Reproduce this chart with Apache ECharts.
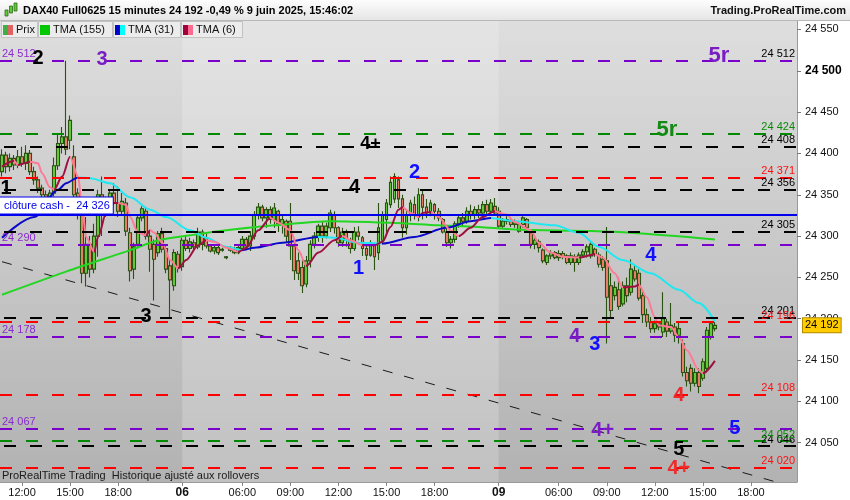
<!DOCTYPE html>
<html><head><meta charset="utf-8">
<script src="https://cdn.jsdelivr.net/npm/echarts@6/dist/echarts.min.js"></script>
<style>html,body{margin:0;padding:0;background:#fff}#c{width:850px;height:500px}</style>
</head><body><div id="c"></div>
<script>
// ---------- DATA ----------
const sessions = [
  {day:'05', start:'10:45', end:'21:45'},
  {day:'06', start:'02:15', end:'21:45'},
  {day:'09', start:'02:15', end:'20:45'}
];
const tickHours = ['06:00','09:00','12:00','15:00','18:00'];
const yTicks = [24050,24100,24150,24200,24250,24300,24350,24400,24450,24500,24550];

// [open, close, low, high]
const candles = [
[24378,24398,24372,24405],[24398,24384,24376,24402],[24384,24394,24378,24400],[24394,24386,24380,24398],[24386,24396,24382,24404],
[24396,24388,24384,24408],[24388,24400,24380,24410],[24400,24378,24374,24404],[24378,24368,24362,24384],[24368,24358,24352,24372],
[24358,24350,24345,24362],[24350,24345,24340,24355],[24345,24352,24340,24356],[24352,24385,24348,24395],[24385,24412,24380,24424],
[24412,24420,24400,24432],[24420,24405,24398,24512],[24416,24440,24405,24446],[24396,24350,24345,24410],[24352,24340,24320,24358],
[24332,24255,24243,24336],[24255,24290,24239,24323],[24290,24260,24250,24300],[24260,24300,24255,24315],[24300,24350,24275,24356],
[24350,24330,24300,24372],[24330,24340,24323,24348],[24340,24352,24334,24356],[24352,24340,24338,24364],[24340,24330,24323,24360],
[24330,24342,24326,24352],[24340,24306,24300,24346],[24304,24258,24245,24310],[24260,24287,24248,24292],[24290,24322,24285,24326],
[24322,24333,24318,24336],[24330,24300,24296,24334],[24300,24284,24257,24306],[24290,24272,24222,24296],[24280,24303,24275,24306],
[24303,24284,24280,24310],[24285,24260,24255,24290],[24264,24247,24200,24272],[24240,24280,24234,24284],[24278,24262,24256,24282],
[24263,24295,24258,24298],[24295,24285,24282,24300],[24285,24293,24280,24298],[24292,24287,24282,24296],[24287,24305,24284,24310],
[24305,24290,24283,24308],[24298,24288,24285,24304],[24288,24282,24280,24290],[24282,24286,24278,24290],[24286,24280,24277,24288],
[24283,24284,24281,24286],[24275,24274,24272,24276],[24283,24285,24281,24288],[24284,24280,24278,24287],[24280,24286,24278,24288],
[24285,24296,24282,24300],[24296,24288,24283,24299],[24288,24300,24282,24306],[24300,24326,24296,24330],[24326,24335,24320,24340],
[24335,24322,24318,24338],[24322,24332,24310,24335],[24332,24320,24315,24336],[24320,24334,24310,24340],[24330,24315,24305,24332],
[24315,24320,24303,24325],[24318,24300,24292,24320],[24318,24288,24271,24340],[24288,24258,24247,24292],[24270,24255,24247,24280],
[24262,24240,24231,24272],[24242,24270,24238,24276],[24270,24290,24262,24295],[24290,24300,24285,24305],[24300,24312,24293,24315],
[24312,24300,24292,24318],[24300,24312,24297,24316],[24310,24328,24305,24332],[24325,24310,24303,24330],[24310,24292,24287,24312],
[24292,24305,24287,24310],[24305,24295,24287,24308],[24295,24285,24279,24298],[24285,24305,24282,24311],[24305,24300,24295,24312],
[24298,24285,24276,24300],[24285,24277,24271,24292],[24277,24290,24275,24295],[24290,24275,24259,24292],[24280,24310,24271,24340],
[24295,24325,24290,24330],[24320,24340,24302,24345],[24338,24365,24334,24372],[24345,24372,24340,24376],[24368,24345,24334,24372],
[24345,24310,24298,24350],[24310,24325,24302,24332],[24325,24340,24318,24344],[24338,24325,24320,24348],[24325,24350,24318,24358],
[24350,24335,24320,24355],[24335,24328,24322,24345],[24328,24340,24324,24344],[24338,24330,24320,24340],[24330,24322,24318,24334],
[24320,24305,24303,24322],[24305,24292,24287,24312],[24292,24296,24285,24300],[24296,24315,24292,24318],[24315,24322,24310,24326],
[24322,24318,24312,24328],[24318,24330,24315,24335],[24330,24325,24320,24338],[24325,24332,24320,24336],[24332,24328,24322,24338],
[24328,24338,24325,24342],[24338,24330,24326,24344],[24330,24340,24327,24345],[24336,24328,24325,24346],[24330,24312,24310,24335],
[24312,24318,24310,24322],[24318,24320,24314,24324],[24318,24314,24311,24322],[24314,24316,24310,24320],[24306,24314,24304,24318],
[24314,24322,24310,24324],[24320,24310,24304,24322],[24304,24290,24285,24306],[24290,24295,24284,24298],[24293,24286,24280,24296],
[24283,24270,24267,24285],[24268,24276,24265,24278],[24276,24280,24272,24283],[24280,24274,24272,24282],[24274,24279,24270,24283],
[24279,24275,24272,24282],[24276,24268,24266,24278],[24268,24276,24265,24280],[24275,24268,24257,24278],[24268,24277,24265,24280],
[24277,24281,24274,24284],[24281,24287,24274,24290],[24276,24290,24273,24293],[24284,24278,24275,24286],[24277,24266,24262,24280],
[24272,24262,24258,24276],[24270,24226,24170,24311],[24240,24210,24200,24255],[24228,24238,24222,24245],[24235,24215,24211,24250],
[24218,24240,24215,24245],[24240,24228,24220,24250],[24232,24260,24228,24272],[24258,24248,24245,24265],[24255,24225,24222,24260],
[24228,24205,24195,24235],[24205,24196,24190,24212],[24196,24188,24183,24202],[24188,24194,24183,24198],[24194,24190,24186,24196],
[24184,24200,24178,24232],[24196,24185,24178,24200],[24185,24192,24182,24219],[24190,24180,24172,24195],[24180,24188,24170,24196],
[24170,24135,24130,24175],[24135,24125,24118,24142],[24140,24122,24112,24145],[24122,24135,24118,24140],[24135,24118,24110,24140],
[24128,24148,24125,24152],[24140,24186,24135,24190],[24178,24194,24175,24197],[24188,24192,24185,24196]
];

// moving averages: [bar index, value]
const tma155 = [[0,24229],[16,24257],[32,24283],[39,24295],[47,24301],[56,24307],[68,24313],[82,24318],[97,24316],[109,24313],[119,24311],[128,24308],[147,24306],[157,24304],[178,24296]];
const tma31 = [[0,24298],[8,24323],[14,24356],[16,24364],[19,24371],[22,24370],[27,24364],[32,24347],[37,24332],[41,24323],[47,24307],[51,24298],[56,24287],[60,24283],[63,24286],[70,24292],[79,24299],[83,24298],[89,24292],[95,24291],[103,24299],[111,24310],[117,24318],[122,24322],[128,24318],[138,24313],[144,24304],[149,24287],[155,24271],[162,24255],[169,24235],[174,24219],[178,24197]];
const tma6 = [[0,24384],[3,24391],[4,24386],[7,24390],[9,24388],[10,24376],[12,24359],[13,24356],[15,24372],[17,24396],[19,24372],[20,24335],[21,24299],[23,24281],[24,24299],[26,24328],[28,24340],[29,24340],[31,24338],[32,24323],[34,24304],[36,24301],[37,24307],[38,24304],[40,24292],[42,24271],[44,24261],[46,24271],[49,24289],[51,24295],[53,24293],[56,24286],[59,24281],[61,24286],[64,24307],[67,24322],[69,24316],[72,24307],[74,24283],[76,24264],[79,24280],[83,24295],[85,24300],[87,24295],[90,24289],[93,24289],[95,24293],[97,24311],[99,24332],[100,24335],[102,24328],[104,24323],[105,24328],[107,24329],[109,24323],[112,24307],[114,24300],[117,24310],[120,24323],[123,24330],[126,24326],[128,24317],[132,24307],[134,24292],[137,24280],[140,24275],[144,24274],[148,24278],[150,24274],[153,24255],[155,24238],[158,24239],[159,24241],[161,24226],[163,24202],[164,24192],[167,24190],[169,24178],[171,24162],[174,24138],[175,24134],[178,24149]];

const trendLine = [[0,24269],[198,23996]];

const blackLevels = [24408,24356,24305,24201,24046];
const redLevels = [24371,24196,24108,24020];
const greenLevels = [24424,24052];
const purpleLevels = [24512,24290,24178,24067];
const purpleRightLabelled = [24512];
const cashClose = 24326;
const lastPrice = 24192;

const wavesBlack = [[9,24515,'2'],[1,24358,'1'],[36,24203,'3'],[88,24359,'4'],[169,24042,'5']];
const wavesBlackSmall = [[92,24411,'4+']];
const wavesPurple = [[25,24514,'3'],[143,24179,'4'],[150,24065,'4+']];
const wavesPurpleBig = [[179,24518,'5r']];
const wavesBlue = [[103,24377,'2'],[89,24261,'1'],[162,24276,'4'],[148,24169,'3'],[183,24067,'5']];
const wavesGreenBig = [[166,24429,'5r']];
const wavesRed = [[169,24107,'4'],[169,24019,'4+']];

// ---------- BUILD ----------
const FONT = '"Liberation Sans", Arial, sans-serif';
function pad(n){return String(n).padStart(2,'0');}
const cats = [];
sessions.forEach(s => {
  let [h,m] = s.start.split(':').map(Number);
  const [eh,em] = s.end.split(':').map(Number);
  while (h*60+m <= eh*60+em) { cats.push(s.day+' '+pad(h)+':'+pad(m)); m += 15; if (m >= 60) { m -= 60; h++; } }
});
const dayStarts = new Set(sessions.slice(1).map(s => s.day+' '+s.start));
const showTick = (i, v) => dayStarts.has(v) || tickHours.includes(v.split(' ')[1]);
const fmt = v => { const s = String(Math.round(v)); return s.slice(0, s.length-3)+' '+s.slice(-3); };

function dirPieces(pts, upColor, downColor){
  const pieces = [];
  for (let k = 0; k < pts.length-1; k++) {
    const color = pts[k+1][1] >= pts[k][1] ? upColor : downColor;
    const last = pieces[pieces.length-1];
    if (last && last.color === color) last.lt = pts[k+1][0];
    else pieces.push({gte: pts[k][0], lt: pts[k+1][0], color: color});
  }
  pieces[0].gte = -5; pieces[pieces.length-1].lt = 205;
  return pieces;
}

const DASH = [12,14];
const HIDDEN = {color:'rgba(0,0,0,0)', width:1, type:'solid'};
const ml = [];
blackLevels.forEach(v => ml.push({yAxis:v, lineStyle:{color:'#000', type:DASH, dashOffset:22, width:2}, label:{position:'insideEndTop', formatter:fmt(v), color:'#000'}}));
redLevels.forEach(v => ml.push({yAxis:v, lineStyle:{color:'#ff0000', type:DASH, width:2}, label:{position:'insideEndTop', formatter:fmt(v), color:'#ff1010'}}));
greenLevels.forEach(v => ml.push({yAxis:v, lineStyle:{color:'#008a00', type:DASH, width:2}, label:{position:'insideEndTop', formatter:fmt(v), color:'#0a8a0a'}}));
purpleLevels.forEach(v => ml.push({yAxis:v, lineStyle:{color:'#7a00cc', type:DASH, width:2}, label:{position:'insideStartTop', formatter:fmt(v), color:'#8a2ad0'}}));
purpleRightLabelled.forEach(v => ml.push({yAxis:v, lineStyle:HIDDEN, label:{position:'insideEndTop', formatter:fmt(v), color:'#000'}}));
ml.push({yAxis:cashClose, lineStyle:{color:'#0000ee', type:'solid', width:2}, label:{position:'insideStartTop', formatter:'clôture cash -  '+fmt(cashClose), color:'#0000ee', backgroundColor:'#fff', borderColor:'#0000ee', borderWidth:1, padding:[3,3,2,4], distance:[0,1]}});
ml.push({yAxis:lastPrice, lineStyle:HIDDEN, label:{position:'end', formatter:fmt(lastPrice), color:'#000', backgroundColor:'#ffcc00', borderColor:'#b08c00', borderWidth:1, padding:[2,2,1,2], fontSize:11, distance:6}});

function waveSeries(data, color, size){
  return {type:'scatter', data:data, symbolSize:1, itemStyle:{color:'rgba(0,0,0,0)', opacity:1}, z:6, silent:true,
    label:{show:true, position:'inside', formatter:p => p.data[2], color:color, opacity:1, fontSize:size, fontWeight:'bold', fontFamily:FONT}};
}

const chart = echarts.init(document.getElementById('c'), null, {renderer:'canvas'});
const legendBoxes = [
  {x:1, w:36, text:'Prix', c:['#3cb043','#e06262']},
  {x:38, w:74, text:'TMA (155)', c:['#00c800','#00c800']},
  {x:113, w:67, text:'TMA (31)', c:['#0000c8','#00ffff']},
  {x:181, w:61, text:'TMA (6)', c:['#a0003c','#ff6a8e']}
];
const graphics = [
  {type:'rect', shape:{x:0,y:0,width:850,height:21}, style:{fill:new echarts.graphic.LinearGradient(0,0,0,1,[{offset:0,color:'#fdfdfd'},{offset:1,color:'#e4e4e4'}])}, z:50},
  {type:'line', shape:{x1:0,y1:20.5,x2:850,y2:20.5}, style:{stroke:'#b8b8b8', lineWidth:1}, z:51},
  {type:'rect', shape:{x:5,y:10,width:3,height:6}, style:{fill:'#5cc83a', stroke:'#2f6a14', lineWidth:0.8}, z:52},
  {type:'rect', shape:{x:9.5,y:6,width:3,height:7}, style:{fill:'#5cc83a', stroke:'#2f6a14', lineWidth:0.8}, z:52},
  {type:'rect', shape:{x:14,y:3,width:3,height:8}, style:{fill:'#5cc83a', stroke:'#2f6a14', lineWidth:0.8}, z:52},
  {type:'text', x:23, y:11, style:{text:'DAX40 Full0625 15 minutes 24 192 -0,49 % 9 juin 2025, 15:46:02', fontFamily:FONT, fontSize:11, fontWeight:'bold', fill:'#000', verticalAlign:'middle'}, z:52},
  {type:'text', x:846, y:11, style:{text:'Trading.ProRealTime.com', fontFamily:FONT, fontSize:11, fontWeight:'bold', fill:'#111', align:'right', verticalAlign:'middle'}, z:52},
  {type:'text', x:2, y:476, style:{text:'ProRealTime Trading  Historique ajusté aux rollovers', fontFamily:FONT, fontSize:11, fill:'#1a1a1a', verticalAlign:'middle'}, z:52}
];
legendBoxes.forEach(b => {
  graphics.push({type:'rect', shape:{x:b.x+0.5,y:21.5,width:b.w,height:16}, style:{fill:'#ececec', stroke:'#c2c2c2', lineWidth:1}, z:52});
  graphics.push({type:'rect', shape:{x:b.x+2,y:25,width:5,height:10}, style:{fill:b.c[0]}, z:53});
  graphics.push({type:'rect', shape:{x:b.x+7,y:25,width:5,height:10}, style:{fill:b.c[1]}, z:53});
  graphics.push({type:'text', x:b.x+15, y:30, style:{text:b.text, fontFamily:FONT, fontSize:11, fill:'#111', verticalAlign:'middle'}, z:53});
});

const option = {
  animation:false,
  backgroundColor:'#fff',
  textStyle:{fontFamily:FONT},
  grid:{left:0, right:53, top:21, bottom:18, show:true, borderWidth:0,
    backgroundColor:new echarts.graphic.LinearGradient(0,0,0,1,[{offset:0,color:'#dedede'},{offset:1,color:'#b2b2b2'}])},
  xAxis:{type:'category', data:cats, boundaryGap:true,
    axisLine:{show:true, lineStyle:{color:'#9a9a9a'}},
    axisTick:{show:true, alignWithLabel:true, interval:showTick, length:4, lineStyle:{color:'#8a8a8a'}},
    axisLabel:{interval:showTick, margin:5, fontSize:11, color:'#111',
      formatter:v => dayStarts.has(v) ? '{d|'+v.split(' ')[0]+'}' : v.split(' ')[1],
      rich:{d:{fontWeight:'bold', fontSize:12, color:'#111'}}},
    splitLine:{show:false}},
  yAxis:{type:'value', position:'right', min:24002.5, max:24560.2, scale:true,
    splitLine:{show:false},
    axisLine:{show:true, lineStyle:{color:'#9a9a9a'}},
    axisTick:{show:true, customValues:yTicks, length:4, lineStyle:{color:'#777'}},
    axisLabel:{customValues:yTicks, margin:8, fontSize:11, color:'#111',
      formatter:v => v === 24500 ? '{b|'+fmt(v)+'}' : fmt(v),
      rich:{b:{fontWeight:'bold', fontSize:12, color:'#000'}}}},
  visualMap:[
    {type:'piecewise', show:false, dimension:0, seriesIndex:3, pieces:dirPieces(tma31,'#0a0ac8','#1ee8f0')},
    {type:'piecewise', show:false, dimension:0, seriesIndex:4, pieces:dirPieces(tma6,'#9c1140','#ff7a96')}
  ],
  series:[
    {type:'line', data:trendLine, symbol:'none', silent:true, z:1,
      lineStyle:{color:'#1a1a1a', width:1, type:[10,12]},
      markArea:{silent:true, itemStyle:{color:'rgba(255,255,255,0.2)'}, data:[[{xAxis:'06 02:15'},{xAxis:'09 02:15'}]]}},
    {type:'candlestick', data:candles, barWidth:3.4, z:2, silent:true,
      itemStyle:{color:'#66d03e', color0:'#f2826e', borderColor:'#2a5212', borderColor0:'#2a5212', borderWidth:1.1}},
    {type:'line', data:tma155, smooth:0.3, symbol:'none', z:3, silent:true, lineStyle:{color:'#22d622', width:2},
      markLine:{silent:true, symbol:['none','none'], animation:false, label:{fontSize:11, distance:[2,1], fontFamily:FONT}, data:ml}},
    {type:'line', data:tma31, smooth:0.3, smoothMonotone:'x', symbol:'none', z:3, silent:true, lineStyle:{width:2}},
    {type:'line', data:tma6, smooth:0.3, smoothMonotone:'x', symbol:'none', z:3, silent:true, lineStyle:{width:2}},
    waveSeries(wavesBlack, '#000', 20),
    waveSeries(wavesBlackSmall, '#000', 18),
    waveSeries(wavesPurple, '#7a1ec4', 20),
    waveSeries(wavesPurpleBig, '#7a1ec4', 22),
    waveSeries(wavesBlue, '#1010ff', 20),
    waveSeries(wavesGreenBig, '#138a13', 22),
    waveSeries(wavesRed, '#ee2a2a', 20)
  ],
  graphic:graphics
};
chart.setOption(option);
</script>
</body></html>
